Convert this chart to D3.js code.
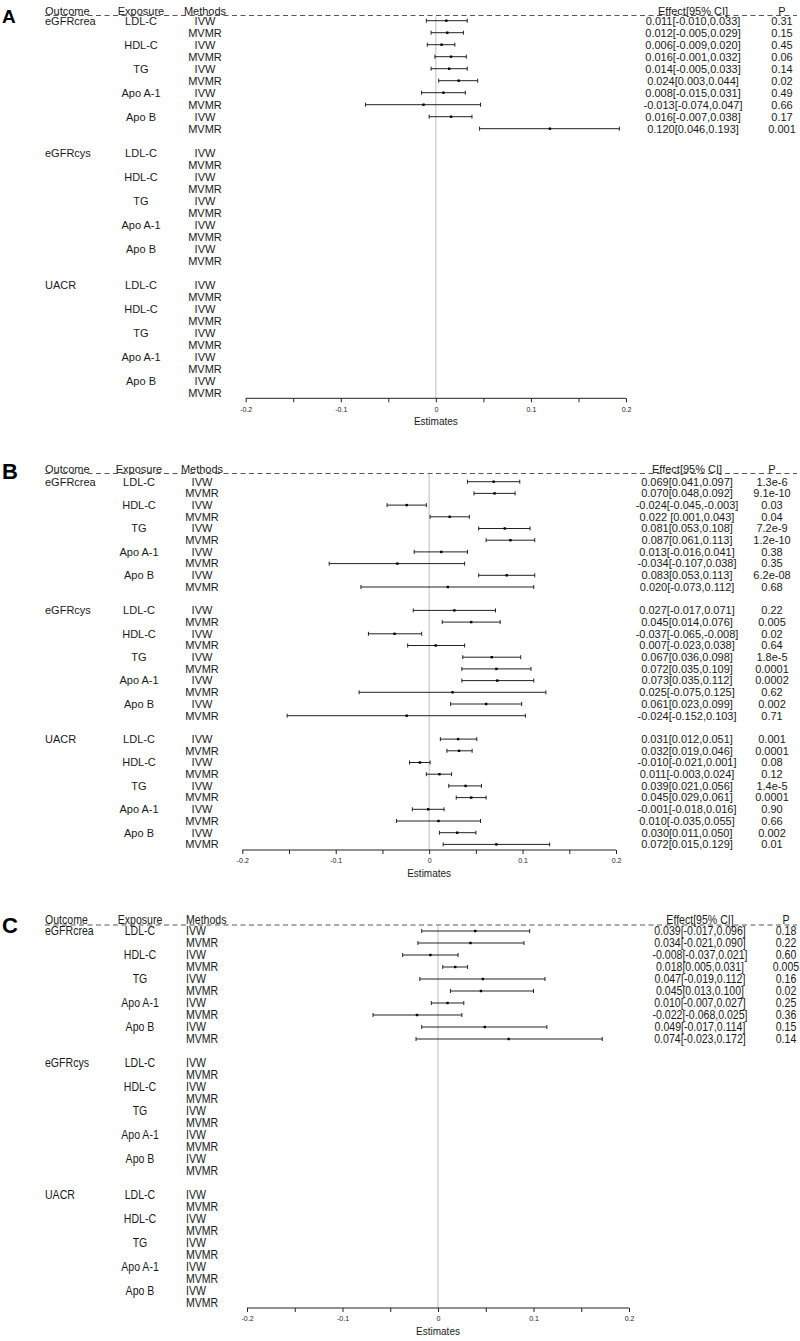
<!DOCTYPE html>
<html><head><meta charset="utf-8">
<script src="https://cdn.jsdelivr.net/npm/d3@7"></script>
<style>
html,body{margin:0;padding:0;background:#fff;}
svg{display:block;}
text{font-family:"Liberation Sans",Arial,sans-serif;fill:#1a1a1a;}
</style></head>
<body>
<svg id="chart" width="800" height="1341"></svg>
<script>
// ---- categories ----
const outcomes = ["eGFRcrea", "eGFRcys", "UACR"];
const exposures = ["LDL-C", "HDL-C", "TG", "Apo A-1", "Apo B"];
const methods = ["IVW", "MVMR"];
const tickValues = [-0.2, -0.15, -0.1, -0.05, 0, 0.05, 0.1, 0.15, 0.2];
const tickLabels = ["-0.2", "", "-0.1", "", "0", "", "0.1", "", "0.2"];

// ---- Panel A (eGFRcrea only) ----
const aEst  = [0.011, 0.012, 0.006, 0.016, 0.014, 0.024, 0.008, -0.013, 0.016, 0.120];
const aLow  = [-0.010, -0.005, -0.009, -0.001, -0.005, 0.003, -0.015, -0.074, -0.007, 0.046];
const aHigh = [0.033, 0.029, 0.020, 0.032, 0.033, 0.044, 0.031, 0.047, 0.038, 0.193];
const aEff  = ["0.011[-0.010,0.033]", "0.012[-0.005,0.029]", "0.006[-0.009,0.020]", "0.016[-0.001,0.032]", "0.014[-0.005,0.033]", "0.024[0.003,0.044]", "0.008[-0.015,0.031]", "-0.013[-0.074,0.047]", "0.016[-0.007,0.038]", "0.120[0.046,0.193]"];
const aP    = ["0.31", "0.15", "0.45", "0.06", "0.14", "0.02", "0.49", "0.66", "0.17", "0.001"];

// ---- Panel B (all three outcomes) ----
const bEst  = [0.069, 0.070, -0.024, 0.022, 0.081, 0.087, 0.013, -0.034, 0.083, 0.020,
               0.027, 0.045, -0.037, 0.007, 0.067, 0.072, 0.073, 0.025, 0.061, -0.024,
               0.031, 0.032, -0.010, 0.011, 0.039, 0.045, -0.001, 0.010, 0.030, 0.072];
const bLow  = [0.041, 0.048, -0.045, 0.001, 0.053, 0.061, -0.016, -0.107, 0.053, -0.073,
               -0.017, 0.014, -0.065, -0.023, 0.036, 0.035, 0.035, -0.075, 0.023, -0.152,
               0.012, 0.019, -0.021, -0.003, 0.021, 0.029, -0.018, -0.035, 0.011, 0.015];
const bHigh = [0.097, 0.092, -0.003, 0.043, 0.108, 0.113, 0.041, 0.038, 0.113, 0.112,
               0.071, 0.076, -0.008, 0.038, 0.098, 0.109, 0.112, 0.125, 0.099, 0.103,
               0.051, 0.046, 0.001, 0.024, 0.056, 0.061, 0.016, 0.055, 0.050, 0.129];
const bEff  = ["0.069[0.041,0.097]", "0.070[0.048,0.092]", "-0.024[-0.045,-0.003]", "0.022 [0.001,0.043]", "0.081[0.053,0.108]", "0.087[0.061,0.113]", "0.013[-0.016,0.041]", "-0.034[-0.107,0.038]", "0.083[0.053,0.113]", "0.020[-0.073,0.112]",
               "0.027[-0.017,0.071]", "0.045[0.014,0.076]", "-0.037[-0.065,-0.008]", "0.007[-0.023,0.038]", "0.067[0.036,0.098]", "0.072[0.035,0.109]", "0.073[0.035,0.112]", "0.025[-0.075,0.125]", "0.061[0.023,0.099]", "-0.024[-0.152,0.103]",
               "0.031[0.012,0.051]", "0.032[0.019,0.046]", "-0.010[-0.021,0.001]", "0.011[-0.003,0.024]", "0.039[0.021,0.056]", "0.045[0.029,0.061]", "-0.001[-0.018,0.016]", "0.010[-0.035,0.055]", "0.030[0.011,0.050]", "0.072[0.015,0.129]"];
const bP    = ["1.3e-6", "9.1e-10", "0.03", "0.04", "7.2e-9", "1.2e-10", "0.38", "0.35", "6.2e-08", "0.68",
               "0.22", "0.005", "0.02", "0.64", "1.8e-5", "0.0001", "0.0002", "0.62", "0.002", "0.71",
               "0.001", "0.0001", "0.08", "0.12", "1.4e-5", "0.0001", "0.90", "0.66", "0.002", "0.01"];

// ---- Panel C (eGFRcrea only) ----
const cEst  = [0.039, 0.034, -0.008, 0.018, 0.047, 0.045, 0.010, -0.022, 0.049, 0.074];
const cLow  = [-0.017, -0.021, -0.037, 0.005, -0.019, 0.013, -0.007, -0.068, -0.017, -0.023];
const cHigh = [0.096, 0.090, 0.021, 0.031, 0.112, 0.100, 0.027, 0.025, 0.114, 0.172];
const cEff  = ["0.039[-0.017,0.096]", "0.034[-0.021,0.090]", "-0.008[-0.037,0.021]", "0.018[0.005,0.031]", "0.047[-0.019,0.112]", "0.045[0.013,0.100]", "0.010[-0.007,0.027]", "-0.022[-0.068,0.025]", "0.049[-0.017,0.114]", "0.074[-0.023,0.172]"];
const cP    = ["0.18", "0.22", "0.60", "0.005", "0.16", "0.02", "0.25", "0.36", "0.15", "0.14"];

const svg = d3.select("#chart");

const panels = [
  {letter:"A", est:aEst, lo:aLow, hi:aHigh, eff:aEff, p:aP,
   first:20.7, step:12, headY:10.7, dashY:15.5, axisY:398.3, xr:[245.7,626],
   effX:693, pX:782, expX:141, methX:205, methAnchor:"middle", letterY:22.7, letterSize:19, fs:11, sx:1},
  {letter:"B", est:bEst, lo:bLow, hi:bHigh, eff:bEff, p:bP,
   first:481.7, step:11.7, headY:469.3, dashY:473.5, axisY:850, xr:[242.3,616],
   effX:687, pX:772, expX:139, methX:202, methAnchor:"middle", letterY:479.3, letterSize:22, fs:11, sx:1},
  {letter:"C", est:cEst, lo:cLow, hi:cHigh, eff:cEff, p:cP,
   first:931, step:12, headY:919.5, dashY:925, axisY:1308, xr:[247,629],
   effX:700, pX:786, expX:140, methX:186, methAnchor:"start", letterY:933, letterSize:22, fs:12, sx:0.88}
];

panels.forEach(P => {
  const g = svg.append("g");
  const x = d3.scaleLinear().domain([-0.2, 0.2]).range(P.xr);
  // place a (possibly condensed) text
  const put = (sel, xf, yf) => sel.attr("transform", d =>
      `translate(${typeof xf === "function" ? xf(d) : xf},${typeof yf === "function" ? yf(d) : yf}) scale(${P.sx},1)`)
    .attr("dy", "0.35em").style("font-size", P.fs + "px");

  // build rows
  const rows = [];
  outcomes.forEach((o, gi) => {
    exposures.forEach((e, ei) => {
      methods.forEach((m, mi) => {
        rows.push({idx: gi*11 + ei*2 + mi, outcome: (ei===0 && mi===0) ? o : "",
                   exposure: mi===0 ? e : "", method: m, k: gi*10 + ei*2 + mi});
      });
    });
  });
  const y = d => P.first + d.idx * P.step;

  // panel letter
  g.append("text").attr("x", 2).attr("y", P.letterY).text(P.letter)
    .style("font-weight", "bold").style("font-size", P.letterSize + "px").style("fill", "#000");

  // header
  const hdr = [
    {t:"Outcome", x:45, a:"start"},
    {t:"Exposure", x:P.expX, a:"middle"},
    {t:"Methods", x:P.methX, a:P.methAnchor},
    {t:"Effect[95% CI]", x:P.effX, a:"middle"},
    {t:"P", x:P.pX, a:"middle"}
  ];
  put(g.selectAll(".hdr").data(hdr).join("text"), d => d.x, P.headY)
    .attr("text-anchor", d => d.a).text(d => d.t);

  g.append("line").attr("x1", 45).attr("x2", 797).attr("y1", P.dashY).attr("y2", P.dashY)
    .attr("stroke", "#444").attr("stroke-width", 0.9).attr("stroke-dasharray", "5,3.5");

  // reference line at 0
  g.append("line").attr("x1", x(0)).attr("x2", x(0)).attr("y1", P.dashY + 1).attr("y2", P.axisY)
    .attr("stroke", "#bdbdbd").attr("stroke-width", 1);

  // row labels
  put(g.selectAll(".out").data(rows.filter(r => r.outcome)).join("text"), 45, y).text(d => d.outcome);
  put(g.selectAll(".exp").data(rows.filter(r => r.exposure)).join("text"), P.expX, y)
    .attr("text-anchor", "middle").text(d => d.exposure);
  put(g.selectAll(".meth").data(rows).join("text"), P.methX, y)
    .attr("text-anchor", P.methAnchor).text(d => d.method);

  // data rows
  const dataRows = rows.filter(r => r.k < P.est.length);
  const marks = g.selectAll(".ci").data(dataRows).join("g").attr("class", "ci");
  marks.append("line").attr("x1", d => x(P.lo[d.k])).attr("x2", d => x(P.hi[d.k]))
    .attr("y1", y).attr("y2", y).attr("stroke", "#222").attr("stroke-width", 1);
  marks.append("line").attr("x1", d => x(P.lo[d.k])).attr("x2", d => x(P.lo[d.k]))
    .attr("y1", d => y(d) - 2).attr("y2", d => y(d) + 2).attr("stroke", "#222").attr("stroke-width", 1);
  marks.append("line").attr("x1", d => x(P.hi[d.k])).attr("x2", d => x(P.hi[d.k]))
    .attr("y1", d => y(d) - 2).attr("y2", d => y(d) + 2).attr("stroke", "#222").attr("stroke-width", 1);
  marks.append("rect").attr("x", d => x(P.est[d.k]) - 1.2).attr("y", d => y(d) - 1.2)
    .attr("width", 2.4).attr("height", 2.4).attr("fill", "#000");

  put(g.selectAll(".eff").data(dataRows).join("text"), P.effX, y)
    .attr("text-anchor", "middle").text(d => P.eff[d.k]);
  put(g.selectAll(".pv").data(dataRows).join("text"), P.pX, y)
    .attr("text-anchor", "middle").text(d => P.p[d.k]);

  // axis
  const axis = d3.axisBottom(x).tickValues(tickValues).tickSize(4)
    .tickFormat((d, i) => tickLabels[i]);
  const ax = g.append("g").attr("transform", `translate(0,${P.axisY})`).call(axis);
  ax.select(".domain").attr("stroke", "#222").attr("d", `M${P.xr[0]},0H${P.xr[1]}`);
  ax.selectAll(".tick line").attr("stroke", "#222");
  ax.selectAll(".tick text").attr("y", 11).attr("dy", "0.35em")
    .style("font-size", "7px").style("font-family", "'Liberation Sans',Arial,sans-serif").style("fill", "#222");
  g.append("text").attr("x", x(0)).attr("y", P.axisY + 23.5).attr("dy", "0.35em")
    .attr("text-anchor", "middle").style("font-size", "10px").text("Estimates");
});
</script>
</body></html>
